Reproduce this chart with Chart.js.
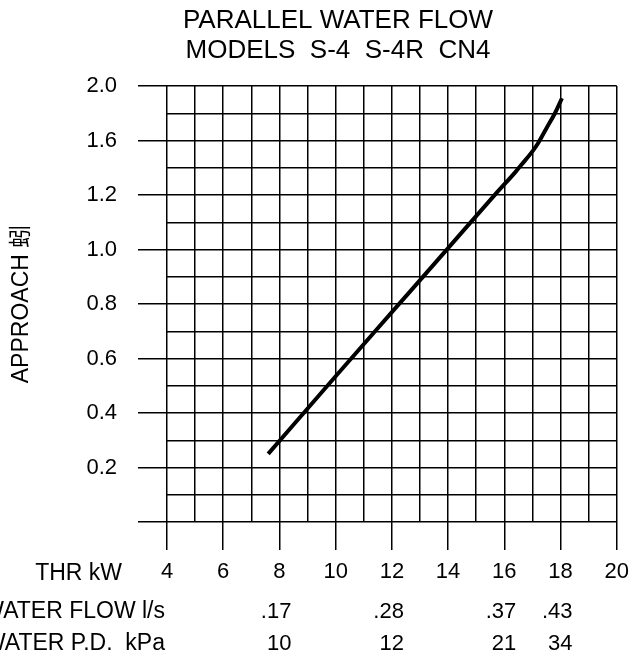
<!DOCTYPE html>
<html><head><meta charset="utf-8">
<script src="https://cdn.jsdelivr.net/npm/chart.js@4.4.1/dist/chart.umd.min.js"></script>
<style>html,body{margin:0;padding:0;background:#fff;}#wrap{width:638px;height:656px;position:relative;}</style>
</head><body><div id="wrap"><canvas id="c" width="638" height="656"></canvas></div>
<script>
const titleLines = ['PARALLEL WATER FLOW', 'MODELS  S-4  S-4R  CN4'];
const yAxisTitle = 'APPROACH 蚓';
const thrKW    = [7.6, 10, 12, 14, 15.7, 16.4, 16.6, 17, 17.2, 17.5, 17.8, 18.05];
const approach = [0.25, 0.535, 0.77, 1.005, 1.21, 1.37, 1.42, 1.52, 1.58, 1.69, 1.80, 1.91];
const yTickValues = [0, 0.2, 0.4, 0.6, 0.8, 1.0, 1.2, 1.6, 2.0];
const yTickLabels = ['', '0.2', '0.4', '0.6', '0.8', '1.0', '1.2', '1.6', '2.0'];
const xTickLabels = ['4', '6', '8', '10', '12', '14', '16', '18', '20'];
const rowNames = ['THR kW', 'WATER FLOW l/s', 'WATER P.D.  kPa'];
const rowThr = [8, 12, 16, 18];
const waterFlow = ['.17', '.28', '.37', '.43'];
const waterPD = ['10', '12', '21', '34'];

const FONT = '"Liberation Sans", Arial, "Noto Sans CJK SC", sans-serif';
const INK = '#000';

// map an approach value onto the (non-uniform) y-axis label positions
function toPos(v) {
  for (let i = 1; i < yTickValues.length; i++) {
    if (v <= yTickValues[i]) {
      const a = yTickValues[i - 1], b = yTickValues[i];
      return (i - 1) + (v - a) / (b - a);
    }
  }
  return yTickValues.length - 1;
}

const textPlugin = {
  id: 'texts',
  afterDraw(chart) {
    const ctx = chart.ctx;
    const xs = chart.scales.x;
    ctx.save();
    ctx.fillStyle = INK;
    ctx.textBaseline = 'alphabetic';
    ctx.textAlign = 'center';
    ctx.font = '26px ' + FONT;
    ctx.fillText(titleLines[0], 338, 28);
    ctx.fillText(titleLines[1], 338, 58);
    ctx.textAlign = 'right';
    ctx.font = '23px ' + FONT;
    ctx.fillText(rowNames[0], 122, 580);
    ctx.fillText(rowNames[1], 165, 618);
    ctx.fillText(rowNames[2], 165, 650);
    ctx.font = '22px ' + FONT;
    rowThr.forEach((t, i) => {
      const px = xs.getPixelForValue(t) + 12;
      ctx.fillText(waterFlow[i], px, 618);
      ctx.fillText(waterPD[i], px, 650);
    });
    ctx.restore();
  }
};

new Chart(document.getElementById('c'), {
  type: 'line',
  data: {
    datasets: [{
      data: thrKW.map((x, i) => ({ x: x, y: toPos(approach[i]) })),
      borderColor: INK,
      borderWidth: 4,
      pointRadius: 0,
      cubicInterpolationMode: 'monotone',
      fill: false
    }]
  },
  options: {
    responsive: false,
    devicePixelRatio: 1,
    animation: false,
    layout: { padding: { top: 86, left: 0, right: 15, bottom: 0 } },
    plugins: { legend: { display: false }, tooltip: { enabled: false }, title: { display: false } },
    scales: {
      x: {
        type: 'linear',
        min: 4, max: 20,
        afterFit(s) { s.height = 134; },
        border: { display: false },
        grid: {
          color: '#000',
          lineWidth: 1.5,
          tickLength: 28,
          tickColor: c => (c.tick && c.tick.value % 2 === 0) ? '#000' : 'rgba(0,0,0,0)',
          tickWidth: 1.5
        },
        ticks: {
          stepSize: 1,
          autoSkip: false,
          maxRotation: 0,
          padding: 9,
          color: INK,
          font: { family: FONT, size: 22 },
          callback: v => (v % 2 === 0) ? xTickLabels[(v - 4) / 2] : ''
        }
      },
      y: {
        type: 'linear',
        min: 0, max: yTickValues.length - 1,
        afterFit(s) { s.width = 167; },
        border: { display: false },
        grid: {
          color: '#000',
          lineWidth: 1.5,
          tickLength: 29,
          tickColor: c => (c.tick && Number.isInteger(c.tick.value)) ? '#000' : 'rgba(0,0,0,0)',
          tickWidth: 1.5
        },
        ticks: {
          stepSize: 0.5,
          autoSkip: false,
          padding: 21,
          color: INK,
          font: { family: FONT, size: 22 },
          callback: v => Number.isInteger(v) ? yTickLabels[v] : ''
        },
        title: {
          display: true,
          text: yAxisTitle,
          color: INK,
          font: { family: FONT, size: 23 },
          padding: { top: 8, bottom: 0 }
        }
      }
    }
  },
  plugins: [textPlugin]
});
</script>
</body></html>
